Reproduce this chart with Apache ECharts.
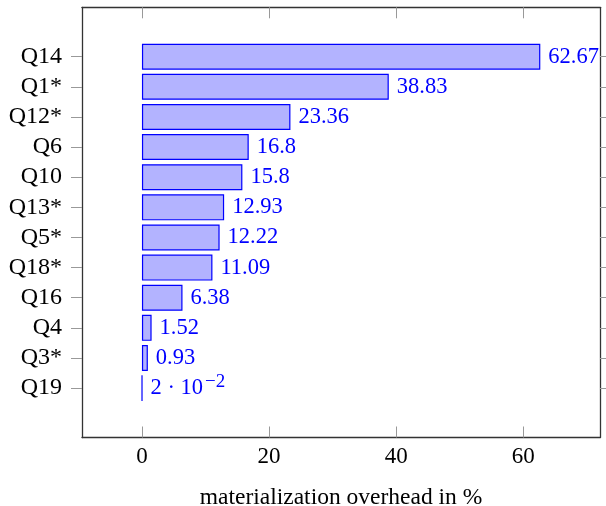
<!DOCTYPE html>
<html><head><meta charset="utf-8">
<script src="https://cdn.jsdelivr.net/npm/echarts@6/dist/echarts.min.js"></script>
<style>html,body{margin:0;padding:0;background:#fff}#c{width:606px;height:506px}</style>
</head><body><div id="c"></div>
<script>
var categories = ['Q14','Q1*','Q12*','Q6','Q10','Q13*','Q5*','Q18*','Q16','Q4','Q3*','Q19'];
var values = [62.67, 38.83, 23.36, 16.8, 15.8, 12.93, 12.22, 11.09, 6.38, 1.52, 0.93, 0.02];
var labelTexts = ['62.67','38.83','23.36','16.8','15.8','12.93','12.22','11.09','6.38','1.52','0.93','2 · 10{sup|−2}'];
var xTicks = [0, 20, 40, 60];
var xMin = -9.43, xMax = 72.06;

var FONT = 'Liberation Serif';
var chart = echarts.init(document.getElementById('c'));
var L = 82, R = 6, T = 7.3, B = 68.5;
var band = 30.15;
var pad = (1.638 - 0.5) * band;
chart.setOption({
  animation: false,
  grid: [
    {left: L, right: R, top: T, bottom: B, containLabel: false, outerBoundsMode: 'none'},
    {left: L, right: R, top: T + pad, bottom: B + pad, containLabel: false, outerBoundsMode: 'none'}
  ],
  xAxis: [
    {gridIndex: 0, type: 'value', min: xMin, max: xMax, position: 'bottom',
     axisLine: {show: true, onZero: false, lineStyle: {color: '#333', width: 1.3}},
     axisTick: {show: true, inside: true, length: 11, customValues: xTicks, lineStyle: {color: '#999', width: 1}},
     axisLabel: {show: true, customValues: xTicks, margin: 8, fontFamily: FONT, fontSize: 23, color: '#000'},
     splitLine: {show: false},
     name: 'materialization overhead in %', nameLocation: 'middle', nameGap: 48,
     nameTextStyle: {fontFamily: FONT, fontSize: 23.5, color: '#000'}},
    {gridIndex: 0, type: 'value', min: xMin, max: xMax, position: 'top',
     axisLine: {show: true, onZero: false, lineStyle: {color: '#333', width: 1.3}},
     axisTick: {show: true, inside: true, length: 11, customValues: xTicks, lineStyle: {color: '#999', width: 1}},
     axisLabel: {show: false}, splitLine: {show: false}},
    {gridIndex: 1, type: 'value', min: xMin, max: xMax, show: false}
  ],
  yAxis: [
    {gridIndex: 0, type: 'value', min: 0, max: 1, position: 'left',
     axisLine: {show: true, onZero: false, lineStyle: {color: '#333', width: 1.3}},
     axisTick: {show: false}, axisLabel: {show: false}, splitLine: {show: false}},
    {gridIndex: 0, type: 'value', min: 0, max: 1, position: 'right',
     axisLine: {show: true, onZero: false, lineStyle: {color: '#333', width: 1.3}},
     axisTick: {show: false}, axisLabel: {show: false}, splitLine: {show: false}},
    {gridIndex: 1, type: 'category', data: categories, inverse: true, position: 'left',
     axisLine: {show: false, onZero: false},
     axisTick: {show: true, alignWithLabel: true, interval: 0, length: 11, lineStyle: {color: '#999', width: 1}},
     axisLabel: {margin: 20, interval: 0, hideOverlap: false, fontFamily: FONT, fontSize: 24, color: '#000'}},
    {gridIndex: 1, type: 'category', data: categories, inverse: true, position: 'right',
     axisLine: {show: false, onZero: false},
     axisTick: {show: true, alignWithLabel: true, interval: 0, length: 11, lineStyle: {color: '#999', width: 1}},
     axisLabel: {show: false}}
  ],
  series: [{
    type: 'bar', xAxisIndex: 2, yAxisIndex: 2,
    data: values, barWidth: 26,
    itemStyle: {color: '#b3b3ff', borderColor: '#0000ff', borderWidth: 1.2},
    label: {show: true, position: 'right', distance: 8, fontFamily: FONT, fontSize: 22.5, color: '#0000ff',
      formatter: function (p) { return labelTexts[p.dataIndex]; },
      rich: {sup: {fontFamily: FONT, fontSize: 19, color: '#0000ff', verticalAlign: 'top', padding: [0,0,12,2]}}}
  }]
});
</script></body></html>
